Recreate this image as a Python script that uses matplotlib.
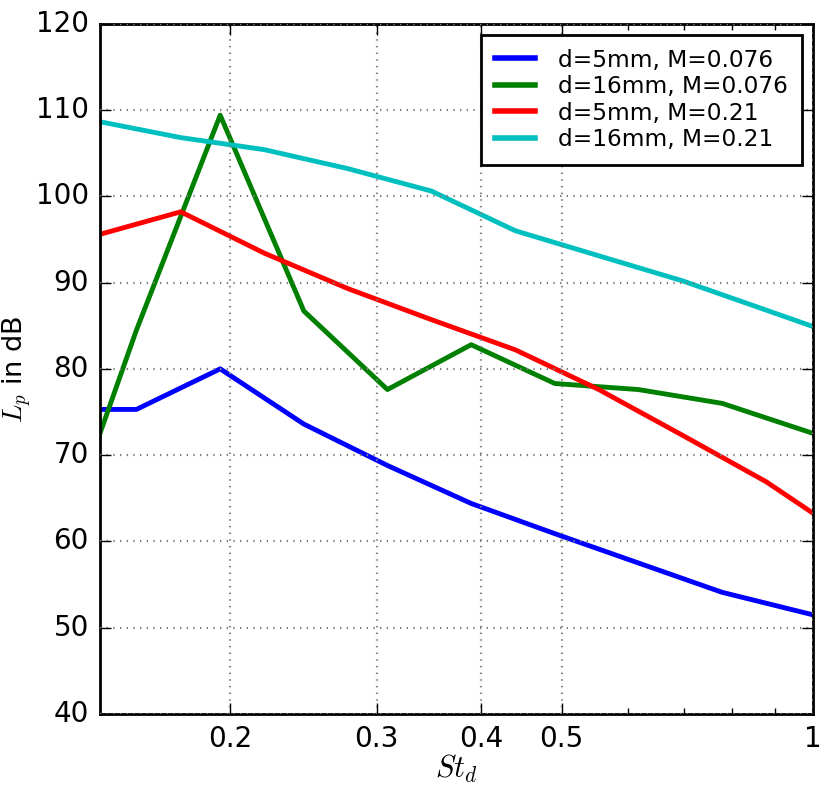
import matplotlib
matplotlib.use("Agg")
import matplotlib.pyplot as plt
from matplotlib.ticker import FixedLocator, FixedFormatter, NullFormatter

plt.style.use('classic')
plt.rcParams['mathtext.fontset'] = 'cm'
plt.rcParams['font.family'] = ['DejaVu Sans']

# Strouhal grid for M=0.076 series and M=0.21 series (third-octave spaced)
st_m076 = [0.1226, 0.1545, 0.1947, 0.2453, 0.309, 0.3894, 0.4906, 0.618, 0.7788, 0.981, 1.236]
st_m021 = [0.1386, 0.1746, 0.22, 0.277, 0.349, 0.44, 0.554, 0.698, 0.88, 1.108]

lp_d5_m076 = [75.3, 75.3, 80.0, 73.6, 68.8, 64.4, 60.9, 57.5, 54.1, 51.7, 49.3]
lp_d16_m076 = [57.0, 84.5, 109.4, 86.7, 77.6, 82.8, 78.3, 77.6, 76.0, 72.8, 69.6]
lp_d5_m021 = [95.5, 98.2, 93.4, 89.3, 85.7, 82.2, 77.6, 72.3, 66.9, 60.4]
lp_d16_m021 = [108.7, 106.8, 105.4, 103.2, 100.6, 96.0, 93.1, 90.2, 86.8, 83.4]

labels = ['d=5mm, M=0.076', 'd=16mm, M=0.076', 'd=5mm, M=0.21', 'd=16mm, M=0.21']
colors = ['b', 'g', 'r', 'c']

xticks = [0.2, 0.3, 0.4, 0.5, 1.0]
xticklabels = ['0.2', '0.3', '0.4', '0.5', '1']
xminor = [0.6, 0.7, 0.8, 0.9]
yticks = [40, 50, 60, 70, 80, 90, 100, 110, 120]

fig = plt.figure(figsize=(8.3, 7.94), dpi=100, facecolor='white')
ax = fig.add_axes([100/830, 1 - 714/794, (812.7 - 100)/830, (714 - 23.7)/794])

series = [(st_m076, lp_d5_m076), (st_m076, lp_d16_m076),
          (st_m021, lp_d5_m021), (st_m021, lp_d16_m021)]
for (x, y), c, lab in zip(series, colors, labels):
    ax.plot(x, y, color=c, lw=3.5, label=lab)

ax.set_xscale('log')
ax.set_xlim(0.1397, 1.0)
ax.set_ylim(40, 120)
ax.xaxis.set_major_locator(FixedLocator(xticks))
ax.xaxis.set_major_formatter(FixedFormatter(xticklabels))
ax.xaxis.set_minor_locator(FixedLocator(xminor))
ax.xaxis.set_minor_formatter(NullFormatter())
ax.set_yticks(yticks)
ax.set_yticklabels([str(v) for v in yticks])

ax.tick_params(axis='both', which='major', labelsize=20, length=8, width=1,
               direction='in', top=True, right=True, pad=8)
ax.tick_params(axis='both', which='minor', length=4, width=1,
               direction='in', top=True, right=True)

ax.grid(True, which='major', color='0.5', linestyle=(0, (1, 3.8)), linewidth=1.6)
for s in ax.spines.values():
    s.set_linewidth(2)

ax.set_xlabel(r'$St_d$', fontsize=22, labelpad=0)
ax.set_ylabel(r'$L_p$ in dB', fontsize=19.5, labelpad=1)

leg = ax.legend(loc='upper right', fontsize=16.75, frameon=True, fancybox=False,
                handlelength=1.7, handletextpad=1.0, labelspacing=0.15,
                borderpad=0.6, borderaxespad=0.47, numpoints=1)
leg.get_frame().set_edgecolor('black')
leg.get_frame().set_linewidth(2)
for line in leg.get_lines():
    line.set_linewidth(4)

fig.savefig('out.png', dpi=100, facecolor='white')
